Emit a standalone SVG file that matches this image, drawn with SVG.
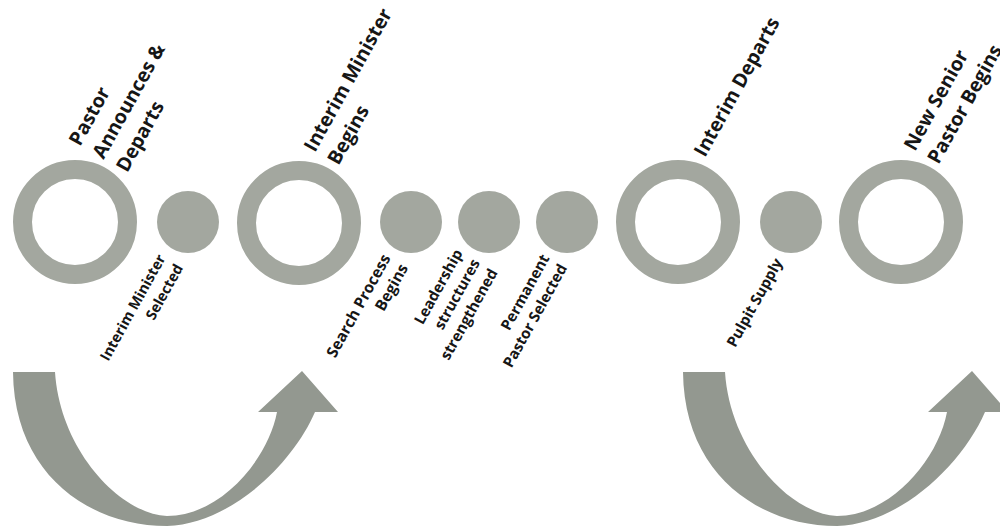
<svg xmlns="http://www.w3.org/2000/svg" width="1000" height="529" viewBox="0 0 1000 529">
  <style>
    .ring { fill: none; stroke: #a3a79f; stroke-width: 19; }
    .dot { fill: #a3a79f; }
    .arrow { fill: #939890; }
    .up { font-family: "Open Sans", "Liberation Sans", sans-serif; font-weight: 700; font-size: 19.5px; fill: #161616; }
    .low { font-family: "Open Sans", "Liberation Sans", sans-serif; font-weight: 700; font-size: 15px; fill: #161616; text-anchor: end; }
  </style>
  <defs>
    <path id="uturn" d="M13,372 C14,475 90,526 167,526 C230,524 292,465 315,412 L338,412 L302,371 L258,412 L277,412 C268,460 220,516 167,516 C120,514 60,450 55,372 Z"/>
  </defs>
  <rect width="1000" height="529" fill="#ffffff"/>

  <g id="connectors">
    <use href="#uturn" class="arrow"/>
    <use href="#uturn" class="arrow" transform="translate(670,0)"/>
  </g>

  <g id="n1">
    <circle class="ring" cx="75" cy="222" r="52.5"/>
    <text class="up" transform="translate(80,147) rotate(-61)"><tspan x="0" y="0">Pastor</tspan><tspan x="0" dy="27">Announces &amp;</tspan><tspan x="0" dy="27">Departs</tspan></text>
  </g>
  <g id="n2">
    <circle class="dot" cx="188" cy="222" r="31"/>
    <text class="low" style="font-size:14.5px" transform="translate(166,258) rotate(-61)"><tspan x="0" y="0">Interim Minister</tspan><tspan x="0" dy="20">Selected</tspan></text>
  </g>
  <g id="n3">
    <circle class="ring" cx="299" cy="223" r="52.5"/>
    <text class="up" transform="translate(315,153) rotate(-61)"><tspan x="0" y="0">Interim Minister</tspan><tspan x="0" dy="27">Begins</tspan></text>
  </g>
  <g id="n4">
    <circle class="dot" cx="411" cy="222" r="31"/>
    <text class="low" style="font-size:15.5px" transform="translate(391,258) rotate(-61)"><tspan x="0" y="0">Search Process</tspan><tspan x="0" dy="20">Begins</tspan></text>
  </g>
  <g id="n5">
    <circle class="dot" cx="489" cy="222" r="31"/>
    <text class="low" transform="translate(463,253) rotate(-61)"><tspan x="0" y="0">Leadership</tspan><tspan x="0" dy="20">structures</tspan><tspan x="0" dy="20">strengthened</tspan></text>
  </g>
  <g id="n6">
    <circle class="dot" cx="567" cy="222" r="31"/>
    <text class="low" transform="translate(550,258) rotate(-61)"><tspan x="0" y="0">Permanent</tspan><tspan x="0" dy="20">Pastor Selected</tspan></text>
  </g>
  <g id="n7">
    <circle class="ring" cx="678" cy="222" r="52.5"/>
    <text class="up" transform="translate(705,158) rotate(-61)">Interim Departs</text>
  </g>
  <g id="n8">
    <circle class="dot" cx="791" cy="222" r="31"/>
    <text class="low" transform="translate(783,262) rotate(-61)">Pulpit Supply</text>
  </g>
  <g id="n9">
    <circle class="ring" cx="901" cy="222" r="52.5"/>
    <text class="up" transform="translate(915,152) rotate(-61)"><tspan x="0" y="0">New Senior</tspan><tspan x="0" dy="27">Pastor Begins</tspan></text>
  </g>
</svg>
